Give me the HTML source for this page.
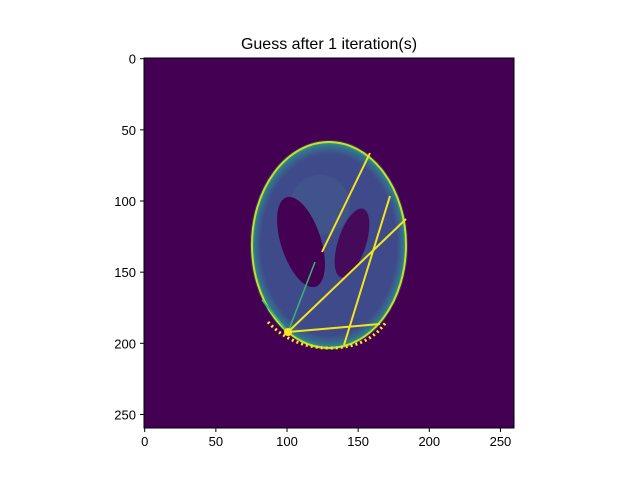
<!DOCTYPE html>
<html><head><meta charset="utf-8"><style>
body{margin:0;background:#fff;font-family:"Liberation Sans",sans-serif}
</style></head><body>
<svg width="640" height="480" xmlns="http://www.w3.org/2000/svg">
<text x="329" y="49" font-size="16" text-anchor="middle">Guess after 1 iteration(s)</text>
<defs>
<radialGradient id="rg" cx="0.5" cy="0.5" r="0.5">
<stop offset="0.88" stop-color="#3f4a8a"/><stop offset="0.96" stop-color="#35708d"/><stop offset="1" stop-color="#2a9a88"/>
</radialGradient>
<clipPath id="cp"><rect x="144" y="58" width="370" height="370"/></clipPath>
</defs>
<g clip-path="url(#cp)">
<rect x="144" y="58" width="370" height="370" fill="#440154"/>
<ellipse cx="329" cy="245" rx="79" ry="105" fill="#2a8a8a" opacity="0.35"/>
<ellipse cx="329" cy="245" rx="77" ry="103" fill="url(#rg)" stroke="#c8e020" stroke-width="2"/>
<ellipse cx="320" cy="205" rx="30" ry="30" fill="#46628c" opacity="0.4"/>
<ellipse cx="301" cy="242" rx="20" ry="47" transform="rotate(-18 301 242)" fill="#440154"/>
<ellipse cx="352" cy="243" rx="14" ry="36" transform="rotate(18 352 243)" fill="#450a5a"/>
<g stroke="#f2e51d" stroke-width="2">
<line x1="288" y1="332" x2="406" y2="219"/>
<line x1="370" y1="153" x2="322" y2="252"/>
<line x1="288" y1="332" x2="380" y2="324"/>
<line x1="344" y1="345" x2="390" y2="196"/>
<line x1="288" y1="332" x2="262" y2="300" stroke="#35b779" stroke-width="1.5"/>
<line x1="288" y1="332" x2="315" y2="262" stroke="#35b779" stroke-width="1.5"/>
</g>
<path d="M268 322 Q292 348 330 348 Q368 348 386 322" fill="none" stroke="#fde725" stroke-width="3" stroke-dasharray="2 3"/>
<circle cx="288" cy="332" r="4" fill="#fde725"/>
</g>
<rect x="144" y="58" width="370" height="370" fill="none" stroke="#000" stroke-width="1"/>
<g id="ticks" font-size="13" fill="#000"></g>
<script>
const xTicks=[0,50,100,150,200,250];
const yTicks=[0,50,100,150,200,250];
const g=document.getElementById('ticks');
const sx=v=>144.7+v*1.423, sy=v=>58.7+v*1.423;
const ns='http://www.w3.org/2000/svg';
xTicks.forEach(t=>{
 const l=document.createElementNS(ns,'line');l.setAttribute('x1',sx(t));l.setAttribute('x2',sx(t));l.setAttribute('y1',428);l.setAttribute('y2',432);l.setAttribute('stroke','#000');
 
 g.appendChild(l);
 const tx=document.createElementNS(ns,'text');tx.setAttribute('x',sx(t));tx.setAttribute('y',446);tx.setAttribute('text-anchor','middle');tx.textContent=t;
 
 g.appendChild(tx);
});
yTicks.forEach(t=>{
 const l=document.createElementNS(ns,'line');l.setAttribute('y1',sy(t));l.setAttribute('y2',sy(t));l.setAttribute('x1',140);l.setAttribute('x2',144);l.setAttribute('stroke','#000');
 
 g.appendChild(l);
 const tx=document.createElementNS(ns,'text');tx.setAttribute('x',136);tx.setAttribute('y',sy(t)+5);tx.setAttribute('text-anchor','end');tx.textContent=t;
 
 g.appendChild(tx);
});
</script>
</svg>
</body></html>
